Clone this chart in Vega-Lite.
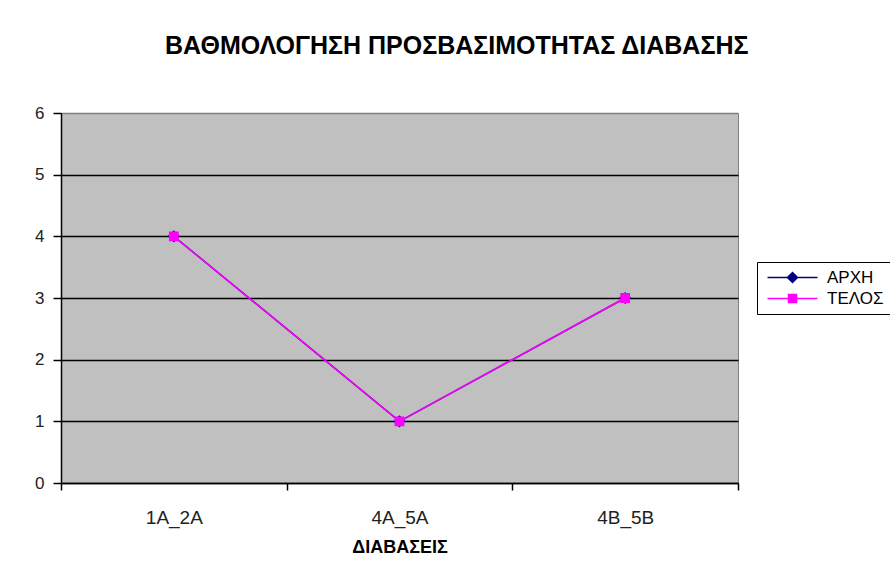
{
  "$schema": "https://vega.github.io/schema/vega-lite/v6.json",
  "width": 677,
  "height": 370,
  "autosize": {"type": "none"},
  "padding": {"left": 61, "top": 113, "right": 152, "bottom": 97},
  "background": "white",
  "config": {
    "font": "Liberation Sans",
    "view": {"fill": "#c0c0c0", "stroke": "#808080", "strokeWidth": 1}
  },
  "title": {
    "text": "ΒΑΘΜΟΛΟΓΗΣΗ ΠΡΟΣΒΑΣΙΜΟΤΗΤΑΣ ΔΙΑΒΑΣΗΣ",
    "anchor": "start",
    "frame": "group",
    "dx": 104,
    "offset": 45,
    "fontSize": 25,
    "fontWeight": "bold",
    "color": "black"
  },
  "data": {
    "values": [
      {"cat": "1A_2A", "series": "ΑΡΧΗ", "value": 4},
      {"cat": "4A_5A", "series": "ΑΡΧΗ", "value": 1},
      {"cat": "4B_5B", "series": "ΑΡΧΗ", "value": 3},
      {"cat": "1A_2A", "series": "ΤΕΛΟΣ", "value": 4},
      {"cat": "4A_5A", "series": "ΤΕΛΟΣ", "value": 1},
      {"cat": "4B_5B", "series": "ΤΕΛΟΣ", "value": 3}
    ]
  },
  "encoding": {
    "x": {
      "field": "cat",
      "type": "nominal",
      "bandPosition": 0.5,
      "scale": {"type": "band", "paddingInner": 0, "paddingOuter": 0},
      "sort": null,
      "axis": {
        "title": "ΔΙΑΒΑΣΕΙΣ",
        "titleFontSize": 18,
        "titleFontWeight": "bold",
        "titleColor": "black",
        "titlePadding": 11,
        "labelAngle": 0,
        "labelFontSize": 19,
        "labelColor": "#222222",
        "labelPadding": 18,
        "tickBand": "extent",
        "tickSize": 7,
        "tickColor": "black",
        "tickWidth": 1.5,
        "domainColor": "black",
        "domainWidth": 1.5,
        "grid": false
      }
    },
    "y": {
      "field": "value",
      "type": "quantitative",
      "scale": {"domain": [0, 6], "nice": false, "zero": true},
      "axis": {
        "title": null,
        "values": [0, 1, 2, 3, 4, 5, 6],
        "labelFontSize": 17,
        "labelColor": "#222222",
        "labelPadding": 9,
        "tickSize": 8,
        "tickColor": "black",
        "tickWidth": 1.5,
        "domainColor": "black",
        "domainWidth": 1.5,
        "grid": true,
        "gridColor": {"condition": {"test": "datum.value == 6", "value": "#808080"}, "value": "black"},
        "gridWidth": 1.5,
        "gridOpacity": 1
      }
    },
    "color": {
      "field": "series",
      "type": "nominal",
      "scale": {"domain": ["ΑΡΧΗ", "ΤΕΛΟΣ"], "range": ["#000080", "#ff00ff"]},
      "legend": {
        "title": null,
        "orient": "none",
        "legendX": 696,
        "legendY": 149,
        "strokeColor": "black",
        "padding": 7,
        "labelFontSize": 17,
        "labelColor": "black",
        "symbolSize": 100,
        "symbolOffset": 20,
        "labelOffset": 26,
        "rowPadding": 3,
        "fillColor": "white",
        "symbolStrokeWidth": 1.5,
        "encode": {
          "symbols": {
            "update": {
              "stroke": {"scale": "color", "field": "value"},
              "strokeWidth": {"value": 1.5}
            }
          }
        }
      }
    }
  },
  "layer": [
    {
      "mark": {"type": "line", "strokeWidth": 1.5},
      "encoding": {"detail": {"field": "series"}}
    },
    {
      "mark": {"type": "point", "filled": true, "opacity": 1, "size": 150},
      "encoding": {
        "shape": {
          "field": "series",
          "type": "nominal",
          "scale": {"domain": ["ΑΡΧΗ", "ΤΕΛΟΣ"], "range": ["M-5,0H5M0,-1L1,0L0,1L-1,0Z", "M-5,0H5M-0.8,-0.8H0.8V0.8H-0.8Z"]},
          "legend": null
        }
      }
    }
  ]
}
